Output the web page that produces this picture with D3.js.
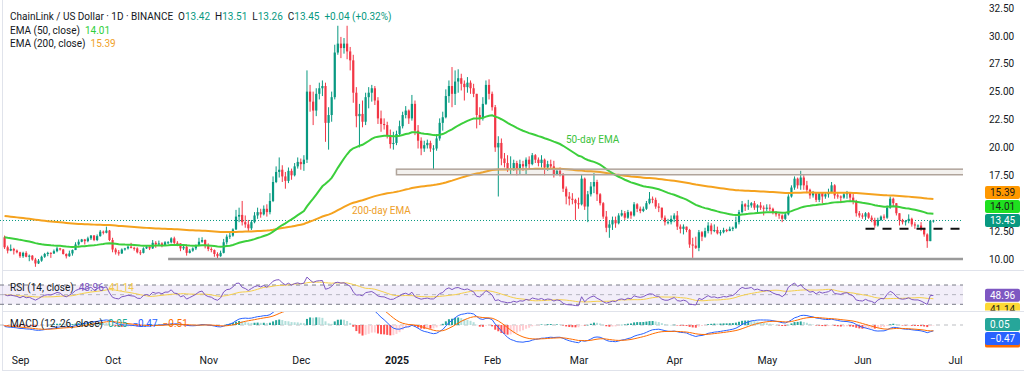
<!DOCTYPE html>
<html><head><meta charset="utf-8">
<script src="https://cdn.jsdelivr.net/npm/d3@7"></script>
<style>
body{margin:0;background:#fff;}
svg{display:block;font-family:Roboto,"Noto Sans",sans-serif;}
text{white-space:pre;}
</style></head><body>
<svg id="c" width="1024" height="375"></svg>
<script>
// ---------- DATA ----------
const startDate = "2024-08-27";
const firstOpen = 11.95;
const closes = [
 11.05,10.75,10.9,10.75,10.6,
 10.25,10.55,10.2,10.3,9.95,9.6,9.85,10.2,10.45,10.55,10.5,10.7,10.95,10.85,10.45,10.25,10.5,10.8,11.3,11.55,11.75,11.6,11.85,12.1,11.7,12.05,12.45,12.35,12.55,11.7,
 10.85,10.6,10.5,10.85,10.95,11.1,11.0,10.95,10.6,10.55,10.95,11.1,10.95,11.45,11.3,11.4,11.25,11.5,11.5,11.85,11.45,11.4,10.95,11.1,10.55,10.75,10.95,11.2,11.55,11.7,11.15,
 10.9,10.8,10.45,10.25,10.55,11.5,12.0,12.1,12.65,13.8,13.95,13.3,13.1,12.75,13.3,13.9,14.2,14.0,14.5,14.2,15.2,16.9,17.8,18.0,17.4,17.0,17.9,17.5,18.3,18.7,
 18.5,18.9,25.0,24.1,23.3,24.8,25.3,25.5,22.2,22.9,24.5,28.5,29.3,28.9,29.3,28.6,27.8,24.9,22.8,23.0,22.3,24.5,24.9,25.3,24.2,22.6,22.1,22.0,21.1,20.3,20.4,
 21.2,21.9,22.9,23.3,22.6,23.9,21.5,20.6,19.9,20.2,20.4,19.9,19.9,20.8,22.2,22.7,24.6,25.5,24.8,25.9,26.2,25.7,25.4,25.8,25.3,24.8,22.9,22.6,23.9,25.6,24.8,
 23.6,20.0,20.4,19.0,18.6,18.0,18.1,18.6,18.0,18.5,18.3,18.9,18.5,19.3,18.9,18.6,18.9,18.2,18.5,18.3,17.6,17.9,17.6,16.3,15.6,15.4,15.3,15.0,
 14.9,17.2,14.7,15.8,16.5,16.9,15.8,15.0,13.8,12.8,13.1,13.5,13.2,13.9,14.1,13.7,14.2,13.9,14.9,14.5,14.3,14.5,15.0,15.4,15.3,14.7,14.6,13.7,13.3,13.3,13.6,
 13.9,12.9,12.7,12.9,12.6,11.3,11.2,11.0,12.4,12.0,12.5,13.0,12.5,12.6,12.3,12.4,12.6,12.5,12.7,12.8,13.3,14.2,14.9,14.7,14.8,15.0,14.6,14.8,14.6,14.5,
 14.6,14.5,14.2,14.0,13.9,13.6,14.0,15.6,16.4,17.2,16.6,17.3,16.6,16.2,15.7,15.9,15.3,15.9,15.6,15.8,16.0,16.6,15.7,15.6,15.5,15.8,15.9,15.5,15.2,14.1,13.9,
 13.8,14.1,13.7,13.5,13.0,13.5,13.8,13.7,14.6,15.4,15.0,14.1,13.5,13.3,13.4,13.6,13.1,13.0,13.0,12.7,12.2,11.6,13.42,13.45
];
const highs = [
 12.1,11.2,11.3,11.0,10.85,
 10.65,10.65,10.7,10.4,10.35,10.1,10.0,10.3,10.55,10.65,10.6,10.85,11.1,11.0,10.9,10.5,10.75,10.85,11.5,11.75,11.8,11.8,12.0,12.15,12.15,12.2,12.6,12.55,12.9,12.6,
 11.9,11.0,10.8,10.95,11.0,11.2,11.45,11.1,11.05,10.8,11.05,11.2,11.15,11.7,11.6,11.65,11.5,11.6,11.6,11.95,12.0,11.6,11.4,11.3,11.3,10.9,11.05,11.3,11.9,11.95,11.75,
 11.4,11.05,10.85,10.6,10.75,11.8,12.2,12.35,12.75,14.4,14.6,15.2,13.9,13.5,13.5,14.2,14.6,14.5,14.8,14.9,15.9,17.4,18.3,19.1,18.4,17.8,18.2,18.1,18.6,19.1,
 19.0,19.3,26.9,25.6,25.0,25.3,25.8,26.0,25.8,23.6,25.0,29.2,30.9,29.9,29.8,30.9,29.0,28.3,25.4,23.9,24.2,24.9,25.4,25.6,25.5,24.5,23.3,22.6,22.3,21.6,21.4,
 21.5,22.4,23.2,23.7,23.4,24.7,24.2,22.0,20.9,20.6,20.7,20.6,20.2,21.2,22.6,23.2,25.2,26.0,27.2,26.9,27.0,26.6,26.0,26.3,26.0,25.7,24.8,23.6,24.5,26.0,26.1,
 25.0,23.8,21.0,20.8,19.5,19.3,19.2,18.9,18.8,18.9,18.8,19.1,19.2,19.5,19.4,19.1,19.3,19.0,18.8,18.9,18.8,18.1,18.2,17.7,16.5,16.0,15.9,15.4,
 15.5,17.6,17.3,16.1,16.9,17.7,17.1,15.9,15.1,14.3,13.4,13.8,13.8,14.1,14.4,14.3,14.4,14.3,15.1,15.0,14.7,14.7,15.2,16.0,15.6,15.5,15.0,14.6,13.9,13.6,13.9,
 14.1,14.3,13.1,13.1,12.9,12.7,11.9,12.0,12.6,12.5,12.8,13.3,13.2,13.1,12.9,12.6,12.8,12.7,12.9,12.9,13.8,14.4,15.2,15.0,15.3,15.1,15.2,14.9,15.1,14.8,
 14.9,14.9,14.6,14.3,14.1,14.0,14.2,15.8,16.6,17.4,17.3,17.9,17.5,17.0,16.3,16.1,16.0,16.0,16.0,16.0,16.3,16.9,16.7,15.9,15.7,16.0,16.1,16.0,15.9,15.3,14.3,
 14.1,14.2,14.2,13.9,13.7,13.7,13.9,14.0,14.8,15.6,15.5,15.0,14.1,13.6,13.5,14.0,13.7,13.3,13.1,13.3,12.8,12.3,13.5,13.51
];
const lows = [
 10.9,10.5,10.7,10.4,10.5,
 10.1,10.1,10.15,9.8,9.85,9.3,9.55,9.75,10.1,10.25,10.1,10.45,10.6,10.75,10.4,10.05,10.2,10.3,10.8,11.2,11.5,11.3,11.5,11.7,11.6,11.6,12.0,12.2,12.3,11.6,
 10.6,10.4,10.3,10.45,10.75,10.85,10.95,10.75,10.5,10.35,10.5,10.9,10.8,10.9,11.0,11.2,11.05,11.2,11.35,11.4,11.3,11.15,10.7,10.8,10.3,10.5,10.65,10.8,11.15,11.45,10.95,
 10.7,10.6,10.2,10.05,10.2,10.5,11.3,11.8,12.0,12.6,13.3,13.0,12.8,12.5,12.6,13.2,13.6,13.7,13.9,13.8,14.0,15.1,16.8,17.3,16.9,16.3,16.8,17.1,17.4,18.1,
 18.0,17.9,18.6,23.2,22.0,22.8,24.3,24.6,20.5,19.8,22.3,24.3,28.3,28.0,28.4,27.9,26.9,24.0,21.8,20.0,21.8,22.0,23.5,24.1,23.8,22.1,21.4,21.6,20.8,19.9,19.8,
 20.2,21.0,21.7,22.6,22.1,22.4,21.1,19.9,19.3,19.6,19.9,19.6,18.0,19.7,20.6,21.5,22.6,24.0,23.6,23.8,24.9,25.1,24.2,24.9,24.8,24.5,21.7,22.0,22.4,23.8,24.3,
 23.3,19.6,15.6,18.4,18.2,17.8,17.6,17.9,17.5,17.6,17.9,17.6,18.1,18.4,18.6,18.3,18.2,17.5,17.9,18.0,17.3,17.5,17.4,16.0,14.9,14.8,14.9,13.5,
 14.5,14.8,14.4,13.3,15.6,15.9,15.2,14.8,13.6,12.4,11.9,12.6,12.8,13.1,13.8,13.5,13.6,13.6,13.8,14.2,14.1,14.2,14.4,14.9,15.0,14.5,14.2,13.5,13.0,13.1,13.1,
 13.3,12.6,12.3,12.2,12.4,11.0,10.1,10.9,10.7,11.6,11.9,12.3,12.2,12.4,12.2,12.1,12.3,12.4,12.5,12.5,12.7,13.1,14.1,14.3,14.4,14.6,14.4,14.2,14.4,13.9,
 14.3,14.3,14.0,13.8,13.6,13.3,13.5,13.9,15.5,16.2,16.3,16.2,16.2,15.9,15.4,15.5,15.1,15.1,15.0,15.4,15.5,15.9,15.4,15.4,15.0,15.4,15.4,15.2,14.9,13.8,13.7,
 13.6,13.5,13.6,13.3,12.8,12.9,13.4,13.5,13.6,14.5,14.7,13.9,13.0,13.1,13.0,13.2,12.9,12.7,12.8,12.5,12.0,11.0,11.6,13.26
];
// indicator starting states (values just before the first candle)
const emaSeeds = [11.99, 13.88];          // EMA50, EMA200
const rsiSeeds = [0.25, 0.18];            // avg gain, avg loss
const macdSeeds = [11.45, 11.55, -0.05];  // EMA12, EMA26, signal
// tick labels (15.00 is hidden behind the value tags in the reference)
const monthDates = ["2024-09-01","2024-10-01","2024-11-01","2024-12-01","2025-01-01","2025-02-01","2025-03-01","2025-04-01","2025-05-01","2025-06-01","2025-07-01"];
const monthLabels = ["Sep","Oct","Nov","Dec","2025","Feb","Mar","Apr","May","Jun","Jul"];
const priceTicks = [10,12.5,17.5,20,22.5,25,27.5,30,32.5];
// drawings
const zonePrices = [17.55, 18.05];
const zoneStart = "2025-01-01";
const supportPrice = 10.0;
const supportStart = "2024-10-19";
const dashPrice = 12.7;
const dashStart = "2025-06-02";
// legend values
const ohlcText = ["13.42","13.51","13.26","13.45","+0.04 (+0.32%)"];
const emaText = ["14.01","15.39"];
const rsiText = ["48.96","41.14"];
const macdText = ["0.05","\u22120.47","\u22120.51"];
const lastClose = 13.45;

// ---------- SETUP ----------
const svg = d3.select("#c");
const PR = 963; // right edge of plot area
const x = d3.scaleUtc().domain([new Date(Date.UTC(2024,8,1)), new Date(Date.UTC(2025,6,1))]).range([20,955]);
const y = d3.scaleLinear().domain([10,32.5]).range([259,7.9]);
const yR = d3.scaleLinear().domain([30,70]).range([304.3,285]);
const yM = d3.scaleLinear().domain([0,1]).range([325,313]);
const C_UP="#089981", C_DN="#f23645", C_E50="#3ccf3c", C_E200="#f5a21e";
const C_TXT="#131722";

const t0 = Date.parse(startDate+"T00:00:00Z");
const dates = closes.map((_,i)=>new Date(t0+i*864e5));
const opens = closes.map((c,i)=> i? closes[i-1] : firstOpen);
const bars = closes.map((c,i)=>({d:dates[i],o:opens[i],c,h:Math.max(highs[i],opens[i],c),l:Math.min(lows[i],opens[i],c)}));

// indicators
function ema(vals,n,seed){const k=2/(n+1);let e=seed;return vals.map(v=>(e=e+k*(v-e)));}
const ema50 = ema(closes,50,emaSeeds[0]);
const ema200 = ema(closes,200,emaSeeds[1]);
let ag=rsiSeeds[0], al=rsiSeeds[1];
const rsi = closes.map((c,i)=>{const ch=c-opens[i];ag=(ag*13+Math.max(ch,0))/14;al=(al*13+Math.max(-ch,0))/14;return 100-100/(1+ag/al);});
const rsiMA = rsi.map((v,i)=>d3.mean(rsi.slice(Math.max(0,i-13),i+1)));
const e12 = ema(closes,12,macdSeeds[0]), e26 = ema(closes,26,macdSeeds[1]);
const macd = e12.map((v,i)=>v-e26[i]);
const signal = ema(macd,9,macdSeeds[2]);
const hist = macd.map((v,i)=>v-signal[i]);

// clip paths
const defs = svg.append("defs");
function clip(id,x0,y0,w,h){defs.append("clipPath").attr("id",id).append("rect").attr("x",x0).attr("y",y0).attr("width",w).attr("height",h);}
clip("cMain",0,0,PR,268);
clip("cRsi",0,272,PR,38.5);
clip("cMacd",0,312,PR,35);
clip("tRsi",PR,272,61,38.5);
clip("tMacd",PR,312,61,35.5);

// frame & pane separators
svg.append("rect").attr("x",2.5).attr("y",-1).attr("width",1030).attr("height",371.5).attr("fill","none").attr("stroke","#e0e3eb");
[270.5,311.5].forEach(v=>svg.append("line").attr("x1",3).attr("x2",1024).attr("y1",v).attr("y2",v).attr("stroke","#e0e3eb"));

// ---------- MAIN PANE ----------
const gm = svg.append("g").attr("clip-path","url(#cMain)");
gm.append("line").attr("x1",0).attr("x2",PR).attr("y1",y(lastClose)).attr("y2",y(lastClose))
  .attr("stroke",C_UP).attr("stroke-dasharray","1,2");
const cg = gm.append("g");
cg.selectAll("line").data(bars).join("line")
  .attr("x1",d=>x(d.d)).attr("x2",d=>x(d.d)).attr("y1",d=>y(d.h)).attr("y2",d=>y(d.l))
  .attr("stroke",d=>d.c>=d.o?C_UP:C_DN).attr("stroke-width",1);
cg.selectAll("rect").data(bars).join("rect")
  .attr("x",d=>x(d.d)-1.1).attr("width",2.2)
  .attr("y",d=>y(Math.max(d.o,d.c))).attr("height",d=>Math.max(1,Math.abs(y(d.o)-y(d.c))))
  .attr("fill",d=>d.c>=d.o?C_UP:C_DN);
const line = (arr,sc)=>d3.line().x((d,i)=>x(dates[i])).y(d=>sc(d))(arr);
gm.append("path").attr("d",line(ema200,y)).attr("fill","none").attr("stroke",C_E200).attr("stroke-width",2);
gm.append("path").attr("d",line(ema50,y)).attr("fill","none").attr("stroke",C_E50).attr("stroke-width",2);
gm.append("rect").attr("x",x(new Date(zoneStart))).attr("width",PR-x(new Date(zoneStart))+2)
  .attr("y",y(zonePrices[1])).attr("height",y(zonePrices[0])-y(zonePrices[1]))
  .attr("fill","rgba(190,175,160,0.18)").attr("stroke","#b0a49b").attr("stroke-width",1.5);
gm.append("line").attr("x1",x(new Date(supportStart))).attr("x2",PR+2).attr("y1",y(supportPrice)).attr("y2",y(supportPrice))
  .attr("stroke","#9a9a9a").attr("stroke-width",2.5);
gm.append("line").attr("x1",x(new Date(dashStart))).attr("x2",PR).attr("y1",y(dashPrice)).attr("y2",y(dashPrice))
  .attr("stroke","#111").attr("stroke-width",2).attr("stroke-dasharray","9,8");
svg.append("text").attr("x",566).attr("y",143).attr("font-size",10).attr("fill","#3cc23c").text("50-day EMA");
svg.append("text").attr("x",352).attr("y",214).attr("font-size",10).attr("fill","#eea02a").text("200-day EMA");

// price axis
const pa = svg.append("g").attr("transform",`translate(${PR},0)`)
  .call(d3.axisRight(y).tickValues(priceTicks).tickFormat(d3.format(".2f")).tickSize(0).tickPadding(26));
pa.select(".domain").remove();
pa.selectAll("text").attr("font-size",10).attr("fill",C_TXT).attr("font-family","Roboto, sans-serif");

// ---------- RSI PANE ----------
const gr = svg.append("g").attr("clip-path","url(#cRsi)");
gr.append("rect").attr("x",0).attr("width",PR).attr("y",yR(70)).attr("height",yR(30)-yR(70)).attr("fill","rgba(126,87,194,0.1)");
[[70,1],[50,0.5],[30,1]].forEach(([v,o])=>gr.append("line").attr("x1",0).attr("x2",PR).attr("y1",yR(v)).attr("y2",yR(v))
  .attr("stroke","#787b86").attr("stroke-opacity",o).attr("stroke-dasharray","4,4"));
gr.append("path").attr("d",line(rsiMA,yR)).attr("fill","none").attr("stroke","#f5cf4a").attr("stroke-width",1);
gr.append("path").attr("d",line(rsi,yR)).attr("fill","none").attr("stroke","#7e57c2").attr("stroke-width",1);

// ---------- MACD PANE ----------
const gc = svg.append("g").attr("clip-path","url(#cMacd)");
gc.append("line").attr("x1",0).attr("x2",PR).attr("y1",yM(0)).attr("y2",yM(0)).attr("stroke","#787b86").attr("stroke-opacity",0.5).attr("stroke-dasharray","4,4");
gc.selectAll("rect").data(hist).join("rect")
  .attr("x",(d,i)=>x(dates[i])-1).attr("width",2)
  .attr("y",d=>yM(Math.max(d,0))).attr("height",d=>Math.max(0.5,Math.abs(yM(d)-yM(0))))
  .attr("fill",(d,i)=>{const p=i?hist[i-1]:d; return d>=0?(p<d?"#26a69a":"#b2dfdb"):(p<d?"#ffcdd2":"#ff5252");});
gc.append("path").attr("d",line(macd,yM)).attr("fill","none").attr("stroke","#2962ff").attr("stroke-width",1);
gc.append("path").attr("d",line(signal,yM)).attr("fill","none").attr("stroke","#ff6d00").attr("stroke-width",1);

// ---------- TIME AXIS ----------
const ta = svg.append("g").attr("transform","translate(0,353)")
  .call(d3.axisBottom(x).tickValues(monthDates.map(s=>new Date(s+"T00:00:00Z"))).tickFormat((d,i)=>monthLabels[i]).tickSize(0).tickPadding(4));
ta.select(".domain").remove();
ta.selectAll("text").attr("font-size",10.5).attr("fill",C_TXT).attr("font-family","Roboto, sans-serif")
  .attr("font-weight",(d,i)=>monthLabels[i]==="2025"?"bold":"normal");

// ---------- LEGENDS ----------
function legend(yy,parts,size){
  const t=svg.append("text").attr("x",10).attr("y",yy).attr("font-size",size||10);
  parts.forEach(([s,c])=>t.append("tspan").attr("fill",c).text(s));
}
legend(19.5,[["ChainLink / US Dollar \u00b7 1D \u00b7 BINANCE  ",C_TXT],["O",C_TXT],[ohlcText[0],C_UP],["  H",C_TXT],[ohlcText[1],C_UP],["  L",C_TXT],[ohlcText[2],C_UP],["  C",C_TXT],[ohlcText[3],C_UP],["  "+ohlcText[4],C_UP]]);
legend(33.5,[["EMA (50, close)  ",C_TXT],[emaText[0],"#2ecf3a"]]);
legend(47,[["EMA (200, close)  ",C_TXT],[emaText[1],"#f0a12a"]]);
legend(290.5,[["RSI (14, close)  ",C_TXT],[rsiText[0],"#7e57c2"],["  "+rsiText[1],"#f2c94c"]]);
legend(326.5,[["MACD (12, 26, close)  ",C_TXT],[macdText[0],"#22ab94"],["  "+macdText[1],"#2962ff"],["  "+macdText[2],"#ff6d00"]]);

// ---------- PRICE TAGS ----------
function tag(parent,yy,bg,fg,txt){
  parent.append("rect").attr("x",985).attr("y",yy-6.5).attr("width",35).attr("height",13).attr("rx",2).attr("fill",bg);
  if(txt) parent.append("text").attr("x",990).attr("y",yy+3.6).attr("font-size",10).attr("fill",fg).text(txt);
}
const gt = svg.append("g");
const yC = y(lastClose);
const y50 = Math.min(y(+emaText[0]), yC-14);
const y200 = Math.min(y(+emaText[1]), y50-14);
tag(gt,y200,"#ff9800","#1a1a1a",emaText[1]);
tag(gt,y50,"#1fe01f","#1a1a1a",emaText[0]);
tag(gt,yC,C_UP,"#fff",lastClose.toFixed(2));
const gtr = svg.append("g").attr("clip-path","url(#tRsi)");
const yr1 = yR(+rsiText[0]);
tag(gtr,Math.max(yR(+rsiText[1]),yr1+14),"#fdd835","#1a1a1a",rsiText[1]);
tag(gtr,yr1,"#7e57c2","#fff",rsiText[0]);
const gtm = svg.append("g").attr("clip-path","url(#tMacd)");
const ym1 = yM(+macdText[0]);
const ym2 = Math.max(yM(-0.47),ym1+14);
tag(gtm,ym2+3,"#ff6d00","#fff",null);   // signal tag hidden below the MACD tag
tag(gtm,ym2,"#2962ff","#fff",macdText[1]);
tag(gtm,ym1,"#26a69a","#fff",macdText[0]);
</script>
</body></html>
